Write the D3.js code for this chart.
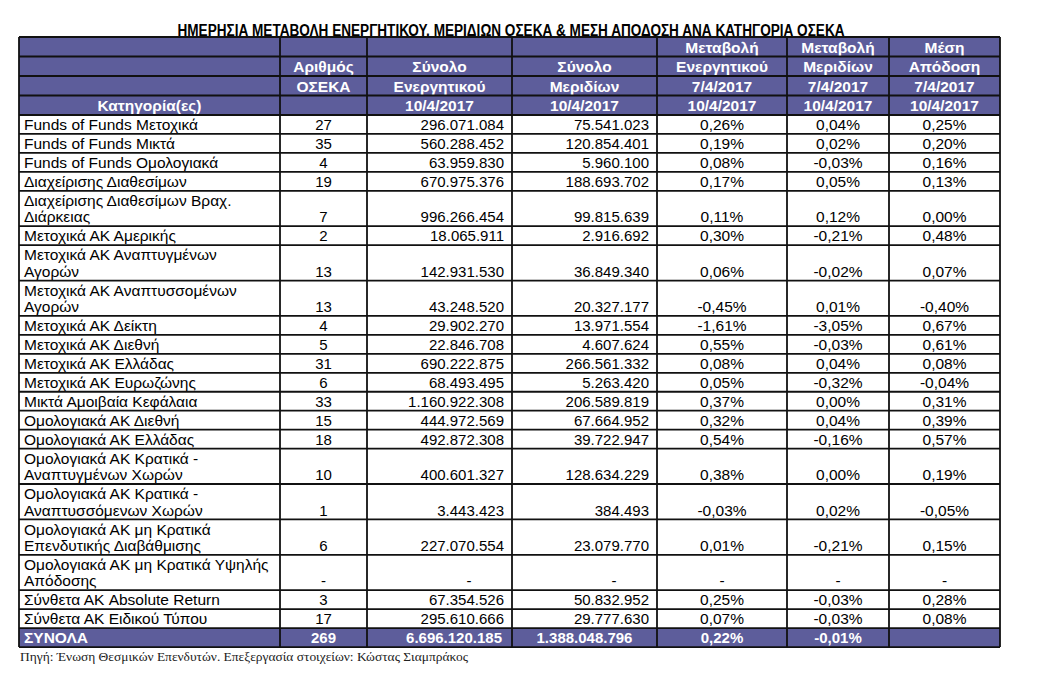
<!DOCTYPE html>
<html><head><meta charset="utf-8">
<script src="https://cdn.jsdelivr.net/npm/d3@7"></script>
<style>
html,body{margin:0;padding:0;background:#fff;}
svg{display:block;}
</style>
</head><body>
<svg id="chart" width="1050" height="678"></svg>
<script>
// ---------------- DATA ----------------
const title = "ΗΜΕΡΗΣΙΑ ΜΕΤΑΒΟΛΗ ΕΝΕΡΓΗΤΙΚΟΥ, ΜΕΡΙΔΙΩΝ ΟΣΕΚΑ & ΜΕΣΗ ΑΠΟΔΟΣΗ ΑΝΑ ΚΑΤΗΓΟΡΙΑ ΟΣΕΚΑ";
const sourceNote = "Πηγή: Ένωση Θεσμικών Επενδυτών. Επεξεργασία στοιχείων: Κώστας Σιαμπράκος";

const headerRows = [
  ["", "", "", "", "Μεταβολή", "Μεταβολή", "Μέση"],
  ["", "Αριθμός", "Σύνολο", "Σύνολο", "Ενεργητικού", "Μεριδίων", "Απόδοση"],
  ["", "ΟΣΕΚΑ", "Ενεργητικού", "Μεριδίων", "7/4/2017", "7/4/2017", "7/4/2017"],
  ["Κατηγορία(ες)", "", "10/4/2017", "10/4/2017", "10/4/2017", "10/4/2017", "10/4/2017"]
];

const categories = [
  "Funds of Funds Μετοχικά",
  "Funds of Funds Μικτά",
  "Funds of Funds Ομολογιακά",
  "Διαχείρισης Διαθεσίμων",
  "Διαχείρισης Διαθεσίμων Βραχ.\nΔιάρκειας",
  "Μετοχικά ΑΚ Αμερικής",
  "Μετοχικά ΑΚ Αναπτυγμένων\nΑγορών",
  "Μετοχικά ΑΚ Αναπτυσσομένων\nΑγορών",
  "Μετοχικά ΑΚ Δείκτη",
  "Μετοχικά ΑΚ Διεθνή",
  "Μετοχικά ΑΚ Ελλάδας",
  "Μετοχικά ΑΚ Ευρωζώνης",
  "Μικτά Αμοιβαία Κεφάλαια",
  "Ομολογιακά ΑΚ Διεθνή",
  "Ομολογιακά ΑΚ Ελλάδας",
  "Ομολογιακά ΑΚ Κρατικά -\nΑναπτυγμένων Χωρών",
  "Ομολογιακά ΑΚ Κρατικά -\nΑναπτυσσόμενων Χωρών",
  "Ομολογιακά ΑΚ μη Κρατικά\nΕπενδυτικής Διαβάθμισης",
  "Ομολογιακά ΑΚ μη Κρατικά Υψηλής\nΑπόδοσης",
  "Σύνθετα ΑΚ Absolute Return",
  "Σύνθετα ΑΚ Ειδικού Τύπου"
];
const fundCounts = [27, 35, 4, 19, 7, 2, 13, 13, 4, 5, 31, 6, 33, 15, 18, 10, 1, 6, null, 3, 17];
const totalAssets = [296071084, 560288452, 63959830, 670975376, 996266454, 18065911, 142931530, 43248520,
  29902270, 22846708, 690222875, 68493495, 1160922308, 444972569, 492872308, 400601327, 3443423,
  227070554, null, 67354526, 295610666];
const totalUnits = [75541023, 120854401, 5960100, 188693702, 99815639, 2916692, 36849340, 20327177,
  13971554, 4607624, 266561332, 5263420, 206589819, 67664952, 39722947, 128634229, 384493,
  23079770, null, 50832952, 29777630];
const assetChange = [0.26, 0.19, 0.08, 0.17, 0.11, 0.30, 0.06, -0.45, -1.61, 0.55, 0.08, 0.05, 0.37,
  0.32, 0.54, 0.38, -0.03, 0.01, null, 0.25, 0.07];
const unitChange = [0.04, 0.02, -0.03, 0.05, 0.12, -0.21, -0.02, 0.01, -3.05, -0.03, 0.04, -0.32, 0.00,
  0.04, -0.16, 0.00, 0.02, -0.21, null, -0.03, -0.03];
const avgReturn = [0.25, 0.20, 0.16, 0.13, 0.00, 0.48, 0.07, -0.40, 0.67, 0.61, 0.08, -0.04, 0.31,
  0.39, 0.57, 0.19, -0.05, 0.15, null, 0.28, 0.08];
const totalsLabel = "ΣΥΝΟΛΑ";
const totalsRow = [269, 6696120185, 1388048796, 0.22, -0.01, null];

// ---------------- LAYOUT ----------------
const purple = "#5d5d9b";
const lineCol = "#111";
const colKeys = ["cat", "count", "assets", "units", "dA", "dU", "ret"];
const colEdges = [19, 280, 367, 512, 657, 787, 889, 1000];
const xLeft = d3.scaleOrdinal().domain(colKeys).range(colEdges.slice(0, 7));
const xRight = d3.scaleOrdinal().domain(colKeys).range(colEdges.slice(1));
const align = {cat: "start", count: "middle", assets: "end", units: "end", dA: "middle", dU: "middle", ret: "middle"};

const headerTop = 37, headerH = 19.5;
const singleH = 18.95, doubleH = 35.4;
const textSize = 15.5, numSize = 15, hdrSize = 15.5;
const fontFam = "'Liberation Sans', Arial, sans-serif";

const loc = d3.formatLocale({decimal: ",", thousands: ".", grouping: [3], currency: ["", "€"], minus: "-"});
const fmtInt = loc.format(",d");
const fmtPct = v => loc.format(".2f")(v) + "%";
const dash = "-";

const svg = d3.select("#chart");

// title
svg.append("text")
  .attr("x", 511).attr("y", 36)
  .attr("text-anchor", "middle")
  .attr("font-family", "'Liberation Sans Narrow', 'Arial Narrow', 'Liberation Sans', sans-serif")
  .attr("font-weight", "bold").attr("font-size", 16)
  .attr("textLength", 667).attr("lengthAdjust", "spacingAndGlyphs")
  .attr("fill", "#000").text(title);

function textX(key) {
  const a = align[key];
  if (a === "start") return xLeft(key) + 5;
  if (a === "end") return xRight(key) - 8;
  return (xLeft(key) + xRight(key)) / 2;
}

// header
const hdr = svg.append("g");
hdr.append("rect").attr("x", colEdges[0]).attr("y", headerTop)
  .attr("width", colEdges[7] - colEdges[0]).attr("height", headerH * 4).attr("fill", purple);
headerRows.forEach((row, r) => {
  row.forEach((t, c) => {
    if (!t) return;
    const key = colKeys[c];
    hdr.append("text")
      .attr("x", (xLeft(key) + xRight(key)) / 2)
      .attr("y", headerTop + headerH * (r + 1) - 4)
      .attr("text-anchor", "middle")
      .attr("font-family", fontFam).attr("font-weight", "bold").attr("font-size", hdrSize)
      .attr("fill", "#fff").text(t);
  });
});

// body rows
const rows = categories.map((c, i) => ({
  lines: c.split("\n"),
  vals: [fundCounts[i], totalAssets[i], totalUnits[i], assetChange[i], unitChange[i], avgReturn[i]]
}));
let y = headerTop + headerH * 4;
rows.forEach(r => { r.y0 = y; r.h = r.lines.length > 1 ? doubleH : singleH; y += r.h; });
const bodyBottom = y;
const totY0 = bodyBottom, totH = singleH;

const body = svg.append("g");
rows.forEach(r => {
  const base = r.y0 + r.h - 3.8;
  r.lines.forEach((ln, k) => {
    body.append("text")
      .attr("x", textX("cat"))
      .attr("y", base - (r.lines.length - 1 - k) * 16.5)
      .attr("font-family", fontFam).attr("font-size", textSize).attr("fill", "#000")
      .text(ln);
  });
  r.vals.forEach((v, j) => {
    const key = colKeys[j + 1];
    let s;
    if (v === null) s = dash;
    else if (j === 0 || j === 1 || j === 2) s = fmtInt(v);
    else s = fmtPct(v);
    const isPct = j >= 3;
    body.append("text")
      .attr("x", (v === null && (key === "assets" || key === "units")) ? textX(key) - 35 : textX(key))
      .attr("y", base)
      .attr("text-anchor", v === null ? "middle" : align[key])
      .attr("font-family", fontFam).attr("font-size", isPct ? textSize : numSize).attr("fill", "#000")
      .text(s);
  });
});

// totals row
const tot = svg.append("g");
tot.append("rect").attr("x", colEdges[0]).attr("y", totY0)
  .attr("width", colEdges[7] - colEdges[0]).attr("height", totH).attr("fill", purple);
tot.append("text").attr("x", textX("cat")).attr("y", totY0 + totH - 3.8)
  .attr("font-family", fontFam).attr("font-weight", "bold").attr("font-size", hdrSize)
  .attr("fill", "#fff").text(totalsLabel);
const totAlign = {count: "middle", assets: "end", units: "middle", dA: "middle", dU: "middle", ret: "middle"};
totalsRow.forEach((v, j) => {
  if (v === null) return;
  const key = colKeys[j + 1];
  const a = totAlign[key];
  const x = a === "end" ? xRight(key) - 10 : (xLeft(key) + xRight(key)) / 2;
  tot.append("text").attr("x", x).attr("y", totY0 + totH - 3.8)
    .attr("text-anchor", a)
    .attr("font-family", fontFam).attr("font-weight", "bold").attr("font-size", numSize)
    .attr("fill", "#fff").text(j < 3 ? fmtInt(v) : fmtPct(v));
});

// grid lines
const grid = svg.append("g").attr("stroke", lineCol).attr("stroke-width", 1.8).attr("fill", "none");
const tableBottom = totY0 + totH;
const hLines = [headerTop];
for (let k = 1; k <= 4; k++) hLines.push(headerTop + headerH * k);
rows.forEach(r => hLines.push(r.y0 + r.h));
hLines.push(tableBottom);
hLines.forEach(yy => grid.append("line").attr("x1", colEdges[0]).attr("x2", colEdges[7]).attr("y1", yy).attr("y2", yy));
colEdges.forEach(xx => grid.append("line").attr("x1", xx).attr("x2", xx).attr("y1", headerTop).attr("y2", tableBottom));

// source note
svg.append("text").attr("x", 20).attr("y", 661)
  .attr("font-family", "'Liberation Serif', 'Times New Roman', serif").attr("font-size", 13.5)
  .attr("textLength", 448).attr("lengthAdjust", "spacingAndGlyphs")
  .attr("fill", "#222").text(sourceNote);
</script>
</body></html>
